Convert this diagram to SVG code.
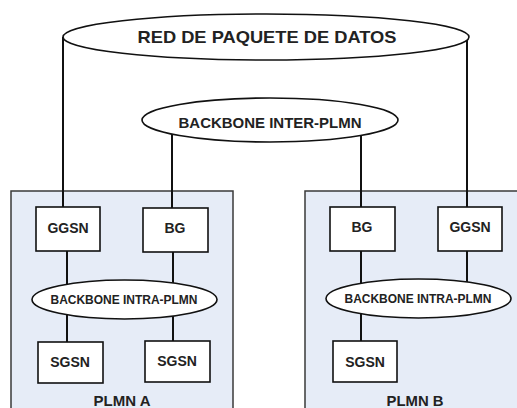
<svg xmlns="http://www.w3.org/2000/svg" width="517" height="408" viewBox="0 0 517 408">
  <style>
    .plmn { fill: #e6ecf7; stroke: #3a3a3a; stroke-width: 1.5; }
    .box { fill: #ffffff; stroke: #111; stroke-width: 1.6; }
    .cloud { fill: #ffffff; stroke: #111; stroke-width: 1.6; }
    .link { stroke: #111; stroke-width: 2; fill: none; }
    text { font-family: "Liberation Sans", Arial, sans-serif; font-weight: bold; fill: #222; text-anchor: middle; }
    .t17 { font-size: 17px; }
    .t14 { font-size: 14px; }
    .t12 { font-size: 12px; }
  </style>
  <rect width="517" height="408" fill="#ffffff"/>

  <!-- network areas -->
  <g id="plmn-a">
    <rect class="plmn" x="11" y="191" width="222" height="230"/>
    <text class="t14" x="122" y="406" textLength="57" lengthAdjust="spacingAndGlyphs">PLMN A</text>
  </g>
  <g id="plmn-b">
    <rect class="plmn" x="305" y="191" width="230" height="230"/>
    <text class="t14" x="415" y="406" textLength="57" lengthAdjust="spacingAndGlyphs">PLMN B</text>
  </g>

  <!-- connectors -->
  <g id="connectors">
    <line class="link" x1="63" y1="37" x2="63" y2="208"/>
    <line class="link" x1="467" y1="37" x2="467" y2="208"/>
    <line class="link" x1="172" y1="120" x2="172" y2="208"/>
    <line class="link" x1="361" y1="120" x2="361" y2="208"/>
    <line class="link" x1="67" y1="251" x2="67" y2="342"/>
    <line class="link" x1="173" y1="252" x2="173" y2="341"/>
    <line class="link" x1="361" y1="251" x2="361" y2="341"/>
    <line class="link" x1="467" y1="251" x2="467" y2="290"/>
  </g>

  <g id="red-paquete-datos">
    <ellipse class="cloud" cx="266" cy="37" rx="203" ry="23"/>
    <text class="t17" x="267" y="43" textLength="259" lengthAdjust="spacingAndGlyphs">RED DE PAQUETE DE DATOS</text>
  </g>
  <g id="backbone-inter">
    <ellipse class="cloud" cx="270" cy="120" rx="128" ry="22"/>
    <text class="t14" x="270" y="128" textLength="183" lengthAdjust="spacingAndGlyphs">BACKBONE INTER-PLMN</text>
  </g>

  <g id="ggsn-a">
    <rect class="box" x="36" y="207" width="64" height="44"/>
    <text class="t14" x="68" y="233">GGSN</text>
  </g>
  <g id="bg-a">
    <rect class="box" x="143" y="208" width="65" height="44"/>
    <text class="t14" x="175" y="233">BG</text>
  </g>
  <g id="backbone-intra-a">
    <ellipse class="cloud" cx="124.5" cy="299.5" rx="92.5" ry="19.5"/>
    <text class="t12" x="124" y="304" textLength="147" lengthAdjust="spacingAndGlyphs">BACKBONE INTRA-PLMN</text>
  </g>
  <g id="sgsn-a1">
    <rect class="box" x="38" y="342" width="65" height="41"/>
    <text class="t14" x="70" y="367">SGSN</text>
  </g>
  <g id="sgsn-a2">
    <rect class="box" x="145" y="341" width="65" height="41"/>
    <text class="t14" x="177" y="366">SGSN</text>
  </g>

  <g id="bg-b">
    <rect class="box" x="330" y="207" width="65" height="44"/>
    <text class="t14" x="362" y="232">BG</text>
  </g>
  <g id="ggsn-b">
    <rect class="box" x="438" y="207" width="64" height="44"/>
    <text class="t14" x="470" y="232">GGSN</text>
  </g>
  <g id="backbone-intra-b">
    <ellipse class="cloud" cx="418.5" cy="298.5" rx="92.5" ry="19.5"/>
    <text class="t12" x="418" y="303" textLength="147" lengthAdjust="spacingAndGlyphs">BACKBONE INTRA-PLMN</text>
  </g>
  <g id="sgsn-b">
    <rect class="box" x="333" y="341" width="64" height="41"/>
    <text class="t14" x="365" y="367">SGSN</text>
  </g>
</svg>
